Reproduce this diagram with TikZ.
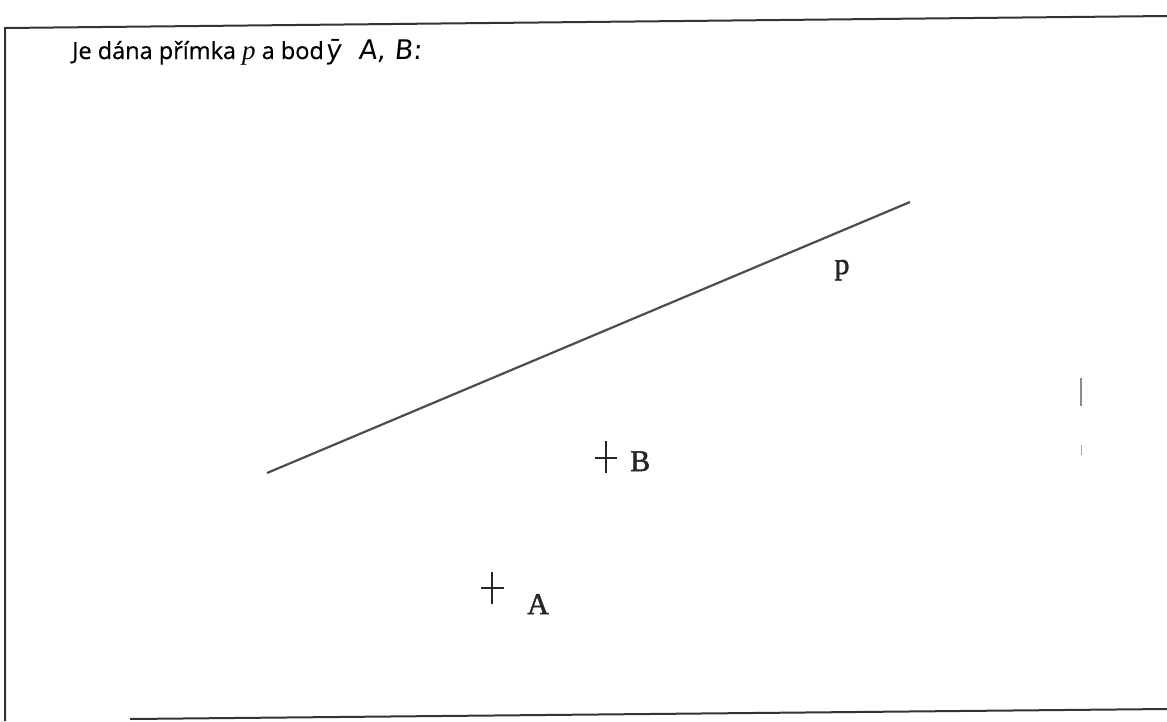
\documentclass[tikz,border=0pt]{standalone}
\usepackage{fontspec}
\setmainfont{Liberation Serif}
\newfontfamily\titlefont{Open Sans}
\newfontfamily\handfont{DejaVu Sans}
\newfontfamily\lblfont[FakeBold=1.6]{Liberation Serif}
\begin{document}
\begin{tikzpicture}[x=1pt,y=-1pt,
  frame/.style={line width=2pt,color=black!80},
  pline/.style={line width=2.2pt,color=black!70},
  crossline/.style={line width=2.4pt,color=black!85},
  lbl/.style={font=\lblfont\fontsize{30}{32}\selectfont,inner sep=0pt,text=black!85},
  tick/.style={line width=1.5pt,color=black!45}]
\useasboundingbox (0,0) rectangle (1167,721);
% frame
\coordinate (tl) at (5,28);
\coordinate (bl) at (5,721);
\coordinate (tr) at (1167,16);
\coordinate (bs) at (130,719);
\coordinate (br) at (1167,709);
\draw[frame] (bl) -- (tl) -- (tr);
\draw[frame] (bs) -- (br);
% title
\node[anchor=base west,inner sep=0pt,font=\titlefont\fontsize{23.5}{26}\selectfont\addfontfeatures{FakeBold=0.6}] (title) at (72,59)
  {Je dána přímka {\rmfamily\itshape\fontsize{27}{28}\selectfont p} a bod};
\node[anchor=base west,inner sep=0pt,font=\handfont\fontsize{27}{30}\selectfont\addfontfeatures{FakeSlant=0.1}] (hand) at ([xshift=1pt]title.base east)
  {ȳ\ \ A, B:};
% line p
\coordinate (p1) at (267,473);
\coordinate (p2) at (910,202);
\draw[pline] (p1) -- (p2);
\node[lbl,anchor=base] (plab) at (842,274) {p};
% point B
\coordinate (B) at (606,458);
\draw[crossline] ([yshift=-15]B) -- ([yshift=17]B);
\draw[crossline] ([xshift=-11]B) -- ([xshift=11]B);
\node[lbl,anchor=base west] (Blab) at (630,471) {B};
% point A
\coordinate (A) at (492,588);
\draw[crossline] ([yshift=-16]A) -- ([yshift=16]A);
\draw[crossline] ([xshift=-11]A) -- ([xshift=12]A);
\node[lbl,anchor=base west] (Alab) at (527,614) {A};
% right marks
\coordinate (m1) at (1081,378);
\coordinate (m2) at (1081,406);
\coordinate (m3) at (1081,445);
\coordinate (m4) at (1081,455);
\draw[tick] (m1) -- (m2);
\draw[tick,line width=1pt,black!35] (m3) -- (m4);
\end{tikzpicture}
\end{document}
